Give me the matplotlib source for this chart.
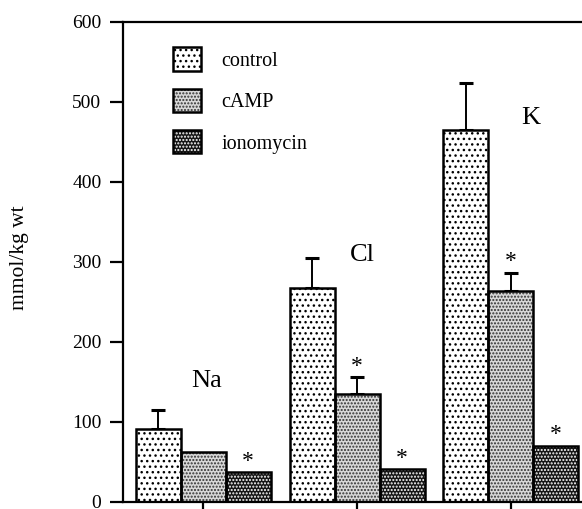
import numpy as np
import matplotlib
matplotlib.use("Agg")
import matplotlib.pyplot as plt
from matplotlib.patches import Patch

plt.rcParams['font.family'] = ['Liberation Serif', 'DejaVu Serif']
plt.rcParams['hatch.linewidth'] = 1.0

# ion contents, mmol/kg wet weight
ions = ['Na', 'Cl', 'K']
treatments = ['control', 'cAMP', 'ionomycin']
control = [91, 267, 465]
camp = [62, 135, 264]
ionomycin = [37, 41, 70]
# upper error (SE), 0 = not drawn
control_err = [24, 38, 59]
camp_err = [0, 21, 22]
ionomycin_err = [0, 0, 0]
# significance marks
camp_sig = [False, True, True]
ionomycin_sig = [True, True, True]

# face, hatch colour, hatch pattern for each treatment
styles = [('white', 'black', '...'),
          ('#d8d8d8', '#303030', '.....'),
          ('#151515', 'white', '.....')]

fig = plt.figure(figsize=(5.82, 5.09), dpi=100)
ax = fig.add_axes([123/582, 7/509, 459/582, 480/509])

group_x = np.arange(len(ions)) * 3.42
width = 1.0
series = [(control, control_err, [False]*3),
          (camp, camp_err, camp_sig),
          (ionomycin, ionomycin_err, ionomycin_sig)]

handles = []
for i, (vals, errs, sig) in enumerate(series):
    face, hcol, hatch = styles[i]
    xs = group_x + (i - 1) * width
    ax.bar(xs, vals, width, color=face, edgecolor=hcol, linewidth=0,
           hatch=hatch, zorder=2)
    ax.bar(xs, vals, width, fill=False, edgecolor='black', linewidth=1.8,
           zorder=3)
    for x, v, e, s in zip(xs, vals, errs, sig):
        top = v
        if e > 0:
            ax.errorbar(x, v, yerr=[[0], [e]], fmt='none', ecolor='black',
                        elinewidth=1.4, capsize=5, capthick=2.2, zorder=1)
            top = v + e
        if s:
            ax.text(x, top + 14, '*', ha='center', va='center', fontsize=17)
    handles.append((Patch(facecolor=face, edgecolor=hcol, linewidth=0, hatch=hatch),
                    Patch(fill=False, edgecolor='black', linewidth=1.8)))

# ion names above each group (x offset from group centre, y in data units)
label_pos = [(0.07, 151), (0.11, 309), (0.44, 480)]
for ion, gx, (dx, y) in zip(ions, group_x, label_pos):
    ax.text(gx + dx, y, ion, ha='center', va='center', fontsize=19)

leg = ax.legend(handles, treatments, loc='upper left',
                bbox_to_anchor=(0.07, 0.985), frameon=False, fontsize=14.5,
                handlelength=1.4, handleheight=1.4, labelspacing=0.9,
                handletextpad=1.0)

ax.set_xlim(-1.78, group_x[-1] + 1.58)
ax.set_ylim(0, 600)
ax.set_yticks(np.arange(0, 601, 100))
ax.set_xticks(group_x)
ax.set_xticklabels([])
ax.tick_params(axis='y', direction='out', length=9.5, width=1.6,
               labelsize=14, pad=6)
ax.tick_params(axis='x', direction='out', length=7, width=1.6)
ax.spines['right'].set_visible(False)
for side in ['left', 'top', 'bottom']:
    ax.spines[side].set_linewidth(1.6)

ax.set_ylabel('mmol/kg wt', fontsize=15.5)
ax.yaxis.set_label_coords(-0.205, 0.51)

fig.savefig('out.png', dpi=100)
